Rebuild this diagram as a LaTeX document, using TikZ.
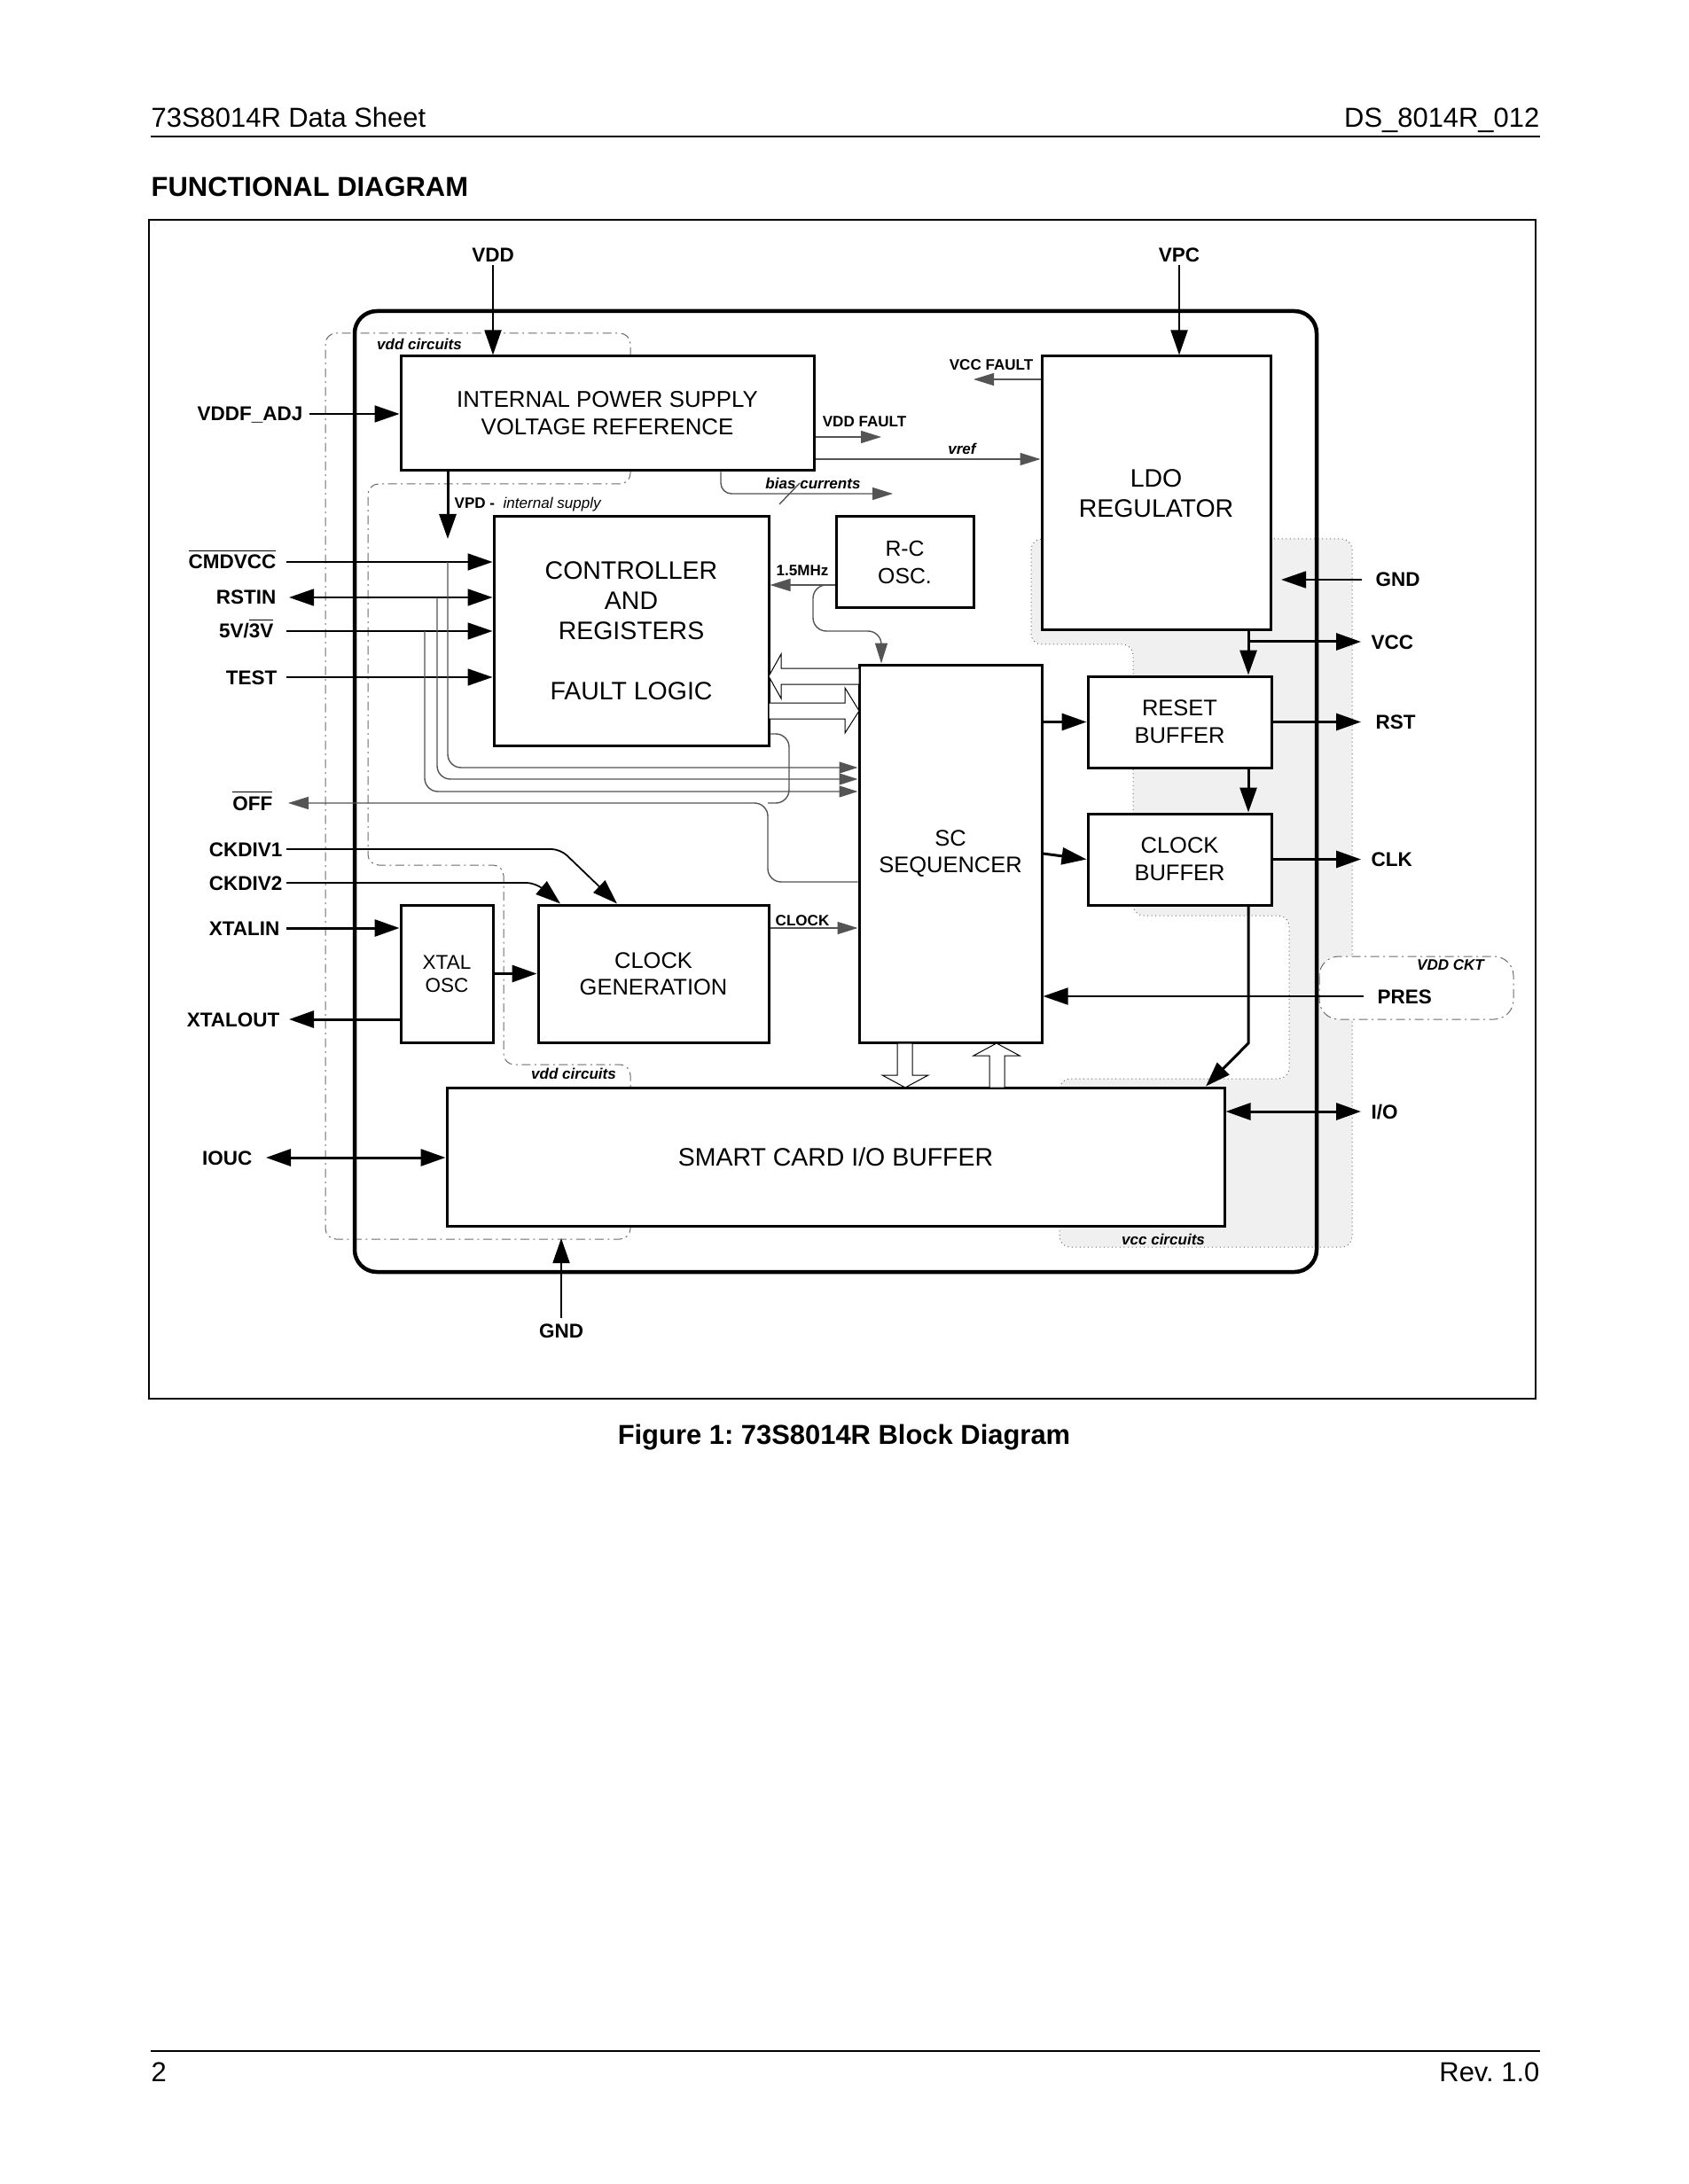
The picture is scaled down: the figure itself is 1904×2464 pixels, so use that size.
\documentclass[tikz,border=0pt]{standalone}
\usepackage{fontspec}
\setmainfont{Liberation Sans}
\usetikzlibrary{arrows.meta}
\definecolor{regfill}{gray}{0.94}
\definecolor{sigg}{gray}{0.33}
\definecolor{dashg}{gray}{0.42}
\newcommand{\ovl}[1]{$\overline{\hbox{#1}}$}
\newcommand{\myfs}[2]{\fontsize{#1}{#2}\selectfont}
\frenchspacing
\begin{document}
\begin{tikzpicture}[x=0.1mm,y=-0.1mm,
  blk/.style={draw,line width=0.3mm,fill=white,inner sep=0,align=center},
  pin/.style={font=\myfs{6.4}{7.7}\bfseries,inner sep=0},
  sml/.style={font=\myfs{4.85}{5.8}\bfseries,inner sep=0},
  smi/.style={font=\myfs{4.85}{5.8}\bfseries\itshape,inner sep=0},
  hdr/.style={font=\myfs{8.8}{10.5},inner sep=0},
  thinln/.style={line width=0.18mm},
  thickln/.style={line width=0.3mm},
  grayln/.style={line width=0.14mm,draw=sigg},
  aB/.style={-{Triangle[length=2.8mm,width=1.9mm]}},
  aBB/.style={{Triangle[length=2.8mm,width=1.9mm]}-{Triangle[length=2.8mm,width=1.9mm]}},
  aS/.style={-{Triangle[length=2.3mm,width=1.4mm]}},
  aM/.style={-{Triangle[length=2.1mm,width=1.3mm]}},
  dd/.style={draw=dashg,line width=0.1mm,dash pattern=on 1mm off 0.45mm on 0.2mm off 0.45mm,rounded corners=1.2mm},
  hollow/.style={draw,line width=0.1mm,fill=white},
]
\useasboundingbox (0,0) rectangle (1904,2464);
\fill[white] (0,0) rectangle (1904,2464);

% header / footer
\node[hdr,anchor=base west] (h1) at (170,144) {73S8014R Data Sheet};
\node[hdr,anchor=base east] (h2) at (1737,144) {DS\_8014R\_012};
\draw[line width=0.25mm] (170,154) -- (1737,154);
\node[hdr,font=\myfs{8.8}{10.5}\bfseries,anchor=base west] (title) at (170,222) {FUNCTIONAL DIAGRAM};
\draw[line width=0.2mm] (168,248) rectangle (1732,1578);
\node[hdr,font=\myfs{8.8}{10.5}\bfseries,anchor=base] (cap) at (952,1629) {Figure 1: 73S8014R Block Diagram};
\draw[line width=0.25mm] (170,2314) -- (1737,2314);
\node[hdr,anchor=base west] (f1) at (170,2348) {2};
\node[hdr,anchor=base east] (f2) at (1737,2348) {Rev. 1.0};

% vcc circuits region
\path[fill=regfill,draw=dashg,line width=0.1mm,densely dotted,rounded corners=1.2mm]
  (1163,608) -- (1525,608) -- (1525,1407) -- (1195,1407) -- (1195,1217) -- (1454,1217)
  -- (1454,1033) -- (1278,1033) -- (1278,727) -- (1163,727) -- cycle;
% VDD CKT box
\draw[dd,fill=white,rounded corners=2.2mm] (1488,1079) rectangle (1707,1150);
% vdd circuits outlines
\draw[dd] (711,402) -- (711,376) -- (367,376) -- (367,1398) -- (711,1398) -- (711,1383);
\draw[dd] (711,531) -- (711,546) -- (415,546) -- (415,976) -- (568,976) -- (568,1201) -- (711,1201) -- (711,1227);

% main chip outline
\draw[line width=0.45mm,rounded corners=2.5mm] (400,351) rectangle (1485,1435);

% blocks
\node[blk,minimum width=46.6mm,minimum height=12.9mm,font=\myfs{7.35}{8.8}] (ips) at (685,466.5) {INTERNAL POWER SUPPLY\\VOLTAGE REFERENCE};
\node[blk,minimum width=31mm,minimum height=25.8mm,font=\myfs{8.1}{9.7}] (ctrl) at (712,712) {CONTROLLER\\AND\\REGISTERS\\[9.7pt]FAULT LOGIC};
\node[blk,minimum width=15.5mm,minimum height=10.3mm,font=\myfs{7.05}{8.8}] (rc) at (1020.5,634.5) {R-C\\OSC.};
\node[blk,minimum width=25.8mm,minimum height=30.9mm,font=\myfs{8.1}{9.7}] (ldo) at (1304,556.5) {LDO\\REGULATOR};
\node[blk,minimum width=20.6mm,minimum height=42.6mm,font=\myfs{7.25}{8.8}] (seq) at (1072,963) {SC\\SEQUENCER};
\node[blk,minimum width=20.7mm,minimum height=10.3mm,font=\myfs{7.25}{8.8}] (rstb) at (1330.5,814.5) {RESET\\BUFFER};
\node[blk,minimum width=20.7mm,minimum height=10.3mm,font=\myfs{7.25}{8.8}] (clkb) at (1330.5,969.5) {CLOCK\\BUFFER};
\node[blk,minimum width=10.4mm,minimum height=15.5mm,font=\myfs{6.4}{7.4}] (xtal) at (504,1098.5) {XTAL\\OSC};
\node[blk,minimum width=26mm,minimum height=15.5mm,font=\myfs{7.25}{8.5}] (cgen) at (737,1098.5) {CLOCK\\GENERATION};
\node[blk,minimum width=87.7mm,minimum height=15.6mm,font=\myfs{8.1}{9.7}] (sc) at (942.5,1305) {SMART CARD I/O BUFFER};

% top pins
\node[pin,anchor=base] (lVDD) at (556,296) {VDD};
\draw[thinln,aB] ([yshift=-0.2mm]lVDD.south) -- (ips.north -| lVDD);
\node[pin,anchor=base] (lVPC) at (1330,296) {VPC};
\draw[thinln,aB] ([yshift=-0.2mm]lVPC.south) -- (ldo.north -| lVPC);
\node[pin,anchor=base east] (lADJ) at (342,475) {VDDF\_ADJ};
\coordinate (cADJ) at (349,467);
\draw[thinln,aB] (cADJ) -- (cADJ -| ips.west);

% IPS outputs
\coordinate (cVPD) at (505,608);
\draw[thickln,aB] (ips.south -| cVPD) -- (cVPD);
\node[sml,anchor=base west] (lVPD) at (512,574) {VPD -};
\node[font=\myfs{4.85}{5.8}\itshape,inner sep=0,anchor=base west] (lint) at (567,574) {internal supply};
\coordinate (cVDDF) at (994,493);
\draw[grayln,aS] (ips.east |- cVDDF) -- (cVDDF);
\node[sml,anchor=base] (lVDDF) at (975,482) {VDD FAULT};
\coordinate (cvref) at (1000,518);
\draw[grayln,aS] (ips.east |- cvref) -- (ldo.west |- cvref);
\node[smi,anchor=base] (lvref) at (1085,513) {vref};
\coordinate (xb) at (813,0);
\coordinate (cbias) at (1007,557);
\draw[grayln,aS,rounded corners=1.2mm] (ips.south -| xb) -- (xb |- cbias) -- (cbias);
\draw[grayln] (879,569) -- (902,545);
\node[smi,anchor=base] (lbias) at (917,552) {bias currents};
\coordinate (cVCCF) at (1098,428);
\draw[grayln,aS] (ldo.west |- cVCCF) -- (cVCCF);
\node[sml,anchor=base] (lVCCF) at (1118,418) {VCC FAULT};

% left pins to controller
\node[pin,anchor=base east] (lCMD) at (312,642) {\ovl{CMDVCC}};
\coordinate (cCMD) at (323,634);
\draw[thinln,aB] (cCMD) -- (cCMD -| ctrl.west);
\node[pin,anchor=base east] (lRSTIN) at (312,682) {RSTIN};
\coordinate (cRSTIN) at (326,674);
\draw[thinln,aBB] (cRSTIN) -- (cRSTIN -| ctrl.west);
\node[pin,anchor=base east] (l53) at (309,720) {5V/\ovl{3V}};
\coordinate (c53) at (323,712);
\draw[thinln,aB] (c53) -- (c53 -| ctrl.west);
\node[pin,anchor=base east] (lTEST) at (313,772) {TEST};
\coordinate (cTEST) at (323,764);
\draw[thinln,aB] (cTEST) -- (cTEST -| ctrl.west);

% branches to sequencer
\coordinate (b1) at (505,866);
\coordinate (b2) at (493,879);
\coordinate (b3) at (479,893);
\draw[grayln,aM,rounded corners=1.5mm] (cCMD -| b1) -- (b1) -- (b1 -| seq.west);
\draw[grayln,aM,rounded corners=1.5mm] (cRSTIN -| b2) -- (b2) -- (b2 -| seq.west);
\draw[grayln,aM,rounded corners=1.5mm] (c53 -| b3) -- (b3) -- (b3 -| seq.west);

% OFF
\node[pin,anchor=base east] (lOFF) at (308,914) {\ovl{OFF}};
\coordinate (cOFF) at (325,906);
\coordinate (oj) at (866,906);
\coordinate (os) at (866,995);
\coordinate (oc) at (890,828);
\draw[grayln,aS,rounded corners=1.5mm] (seq.west |- os) -- (os) -- (oj) -- (cOFF);
\draw[grayln,rounded corners=1.5mm] (ctrl.east |- oc) -- (oc) -- (oc |- oj) -- (oj);

% R-C oscillator
\coordinate (y15) at (0,660);
\draw[grayln,aS] (rc.west |- y15) -- (ctrl.east |- y15);
\node[sml,anchor=base] (l15) at (905,650) {1.5MHz};
\coordinate (r1) at (917,712);
\coordinate (r2) at (994,712);
\draw[grayln,aS,rounded corners=1.5mm] (rc.west |- y15) -- (r1 |- y15) -- (r1) -- (r2) -- (seq.north -| r2);

% hollow bus arrows controller <-> sequencer
\draw[hollow] (867,763) -- (881,738) -- (881,754) -- (969,754) -- (969,772) -- (881,772) -- (881,788) -- cycle;
\draw[hollow] (969,802) -- (953,776) -- (953,793) -- (867,793) -- (867,811) -- (953,811) -- (953,827) -- cycle;

% clock inputs
\node[pin,anchor=base east] (lCK1) at (319,966) {CKDIV1};
\coordinate (k1) at (323,958);
\coordinate (k1b) at (632,958);
\coordinate (k1t) at (696,0);
\draw[thinln,aB,rounded corners=1mm] (k1) -- (k1b) -- (cgen.north -| k1t);
\node[pin,anchor=base east] (lCK2) at (319,1004) {CKDIV2};
\coordinate (k2) at (323,996);
\coordinate (k2b) at (604,996);
\coordinate (k2t) at (632,0);
\draw[thinln,aB,rounded corners=1mm] (k2) -- (k2b) -- (cgen.north -| k2t);
\node[pin,anchor=base east] (lXI) at (316,1055) {XTALIN};
\coordinate (xi) at (323,1047);
\draw[thickln,aB] (xi) -- (xi -| xtal.west);
\node[pin,anchor=base east] (lXO) at (316,1158) {XTALOUT};
\coordinate (xo) at (326,1150);
\draw[thickln,aB] (xo -| xtal.west) -- (xo);
\draw[thickln,aB] (xtal.east) -- (cgen.west);
\coordinate (yck) at (0,1047);
\draw[grayln,aS] (cgen.east |- yck) -- (seq.west |- yck);
\node[sml,anchor=base] (lCLOCK) at (905,1044) {CLOCK};

% IOUC
\node[pin,anchor=base east] (lIOUC) at (285,1314) {IOUC};
\coordinate (ci) at (300,1306);
\draw[thickln,aBB] (ci) -- (ci -| sc.west);

% hollow arrows sequencer <-> smart card
\draw[hollow] (1012,1177) -- (1029,1177) -- (1029,1213) -- (1047,1213) -- (1021,1227) -- (995,1213) -- (1012,1213) -- cycle;
\draw[hollow] (1116,1227) -- (1133,1227) -- (1133,1191) -- (1150,1191) -- (1124,1177) -- (1098,1191) -- (1116,1191) -- cycle;

% right side
\coordinate (xv) at (1408,0);
\draw[thickln,aB] (ldo.south -| xv) -- (rstb.north -| xv);
\coordinate (vcc) at (1535,724);
\draw[thickln,aB] (xv |- vcc) -- (vcc);
\node[pin,anchor=base west] (lVCC) at (1546,733) {VCC};
\draw[thickln,aB] (seq.east |- rstb.west) -- (rstb.west);
\coordinate (rst) at (1535,814.5);
\draw[thickln,aB] (rstb.east) -- (rst);
\node[pin,anchor=base west] (lRST) at (1551,822) {RST};
\draw[thickln,aB] (rstb.south -| xv) -- (clkb.north -| xv);
\coordinate (s2) at (0,963);
\draw[thickln,aB] (seq.east |- s2) -- (clkb.west);
\coordinate (clk) at (1535,969.5);
\draw[thickln,aB] (clkb.east) -- (clk);
\node[pin,anchor=base west] (lCLK) at (1546,977) {CLK};
\coordinate (cs1) at (1408,1177);
\coordinate (cs2) at (1360,0);
\draw[thickln,aB] (clkb.south -| xv) -- (cs1) -- (sc.north -| cs2);
\coordinate (io) at (1535,1254);
\draw[thickln,aBB] (sc.east |- io) -- (io);
\node[pin,anchor=base west] (lIO) at (1546,1262) {I/O};
\coordinate (g1) at (1536,654);
\coordinate (g2) at (1445,654);
\draw[thinln,aB] (g1) -- (g2);
\node[pin,anchor=base west] (lGNDr) at (1551,662) {GND};
\coordinate (pr) at (1538,1124);
\draw[thinln,aB] (pr) -- (seq.east |- pr);
\node[pin,anchor=base west] (lPRES) at (1553,1132) {PRES};
\node[pin,anchor=base] (lGNDb) at (633,1509) {GND};
\coordinate (gb1) at (633,1487);
\coordinate (gb2) at (633,1397);
\draw[thinln,aB] (gb1) -- (gb2);

% region labels
\node[smi,anchor=base] (lvdd1) at (473,395) {vdd circuits};
\node[smi,anchor=base] (lvdd2) at (647,1217) {vdd circuits};
\node[smi,anchor=base] (lvcc) at (1312,1404) {vcc circuits};
\node[smi,anchor=base] (lckt) at (1636,1094) {VDD CKT};
\end{tikzpicture}
\end{document}
